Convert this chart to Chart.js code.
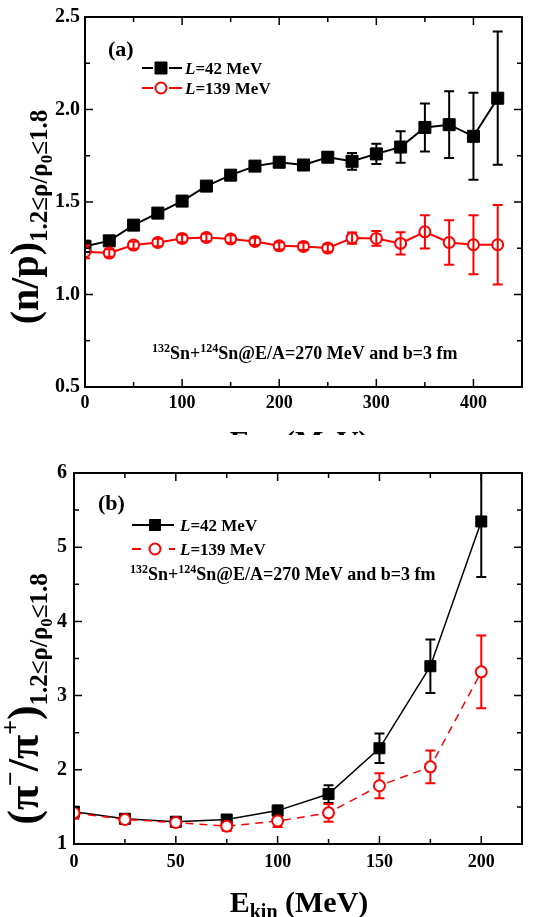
<!DOCTYPE html>
<html>
<head>
<meta charset="utf-8">
<script src="https://cdn.jsdelivr.net/npm/chart.js@4.4.0/dist/chart.umd.min.js"></script>
<style>
  html, body { margin: 0; padding: 0; background: #fff; }
  #wrap { position: relative; width: 540px; height: 917px; overflow: hidden; background: #fff; }
  .box { position: absolute; left: 0; width: 540px; }
  #boxA { top: 0; height: 435px; }
  #boxB { top: 435px; height: 482px; background: #fff; }
</style>
</head>
<body>
<div id="wrap">
  <div class="box" id="boxA"><canvas id="chartA" width="540" height="435"></canvas></div>
  <div class="box" id="boxB"><canvas id="chartB" width="540" height="482"></canvas></div>
</div>
<script>
// panel (a): (n/p) vs kinetic energy
const energyA = [0, 25, 50, 75, 100, 125, 150, 175, 200, 225, 250, 275, 300, 325, 350, 375, 400, 425];
const npL42 = [1.26, 1.29, 1.375, 1.44, 1.505, 1.586, 1.645, 1.694, 1.715, 1.70, 1.742, 1.72, 1.76, 1.797, 1.903, 1.918, 1.855, 2.061];
const npL42Err = [0.03, 0.015, 0.015, 0.015, 0.015, 0.015, 0.015, 0.015, 0.015, 0.015, 0.025, 0.045, 0.055, 0.085, 0.13, 0.18, 0.235, 0.36];
const npL139 = [1.231, 1.224, 1.267, 1.281, 1.303, 1.308, 1.30, 1.287, 1.263, 1.26, 1.251, 1.305, 1.303, 1.276, 1.339, 1.281, 1.269, 1.269];
const npL139Err = [0.035, 0.02, 0.02, 0.02, 0.02, 0.02, 0.02, 0.02, 0.02, 0.02, 0.02, 0.03, 0.04, 0.06, 0.09, 0.12, 0.16, 0.215];
const xTicksA = [0, 100, 200, 300, 400];
const yTicksA = [0.5, 1.0, 1.5, 2.0, 2.5];
const yLabelsA = ['0.5', '1.0', '1.5', '2.0', '2.5'];

// panel (b): (pi-/pi+) vs kinetic energy
const energyB = [0, 25, 50, 75, 100, 125, 150, 175, 200];
const piL42 = [1.435, 1.34, 1.30, 1.33, 1.45, 1.673, 2.29, 3.396, 5.347];
const piL42Err = [0.04, 0.04, 0.04, 0.05, 0.07, 0.12, 0.2, 0.36, 0.75];
const piL139 = [1.42, 1.33, 1.29, 1.24, 1.31, 1.42, 1.785, 2.04, 3.32];
const piL139Err = [0.08, 0.06, 0.06, 0.06, 0.08, 0.12, 0.17, 0.22, 0.49];
const xTicksB = [0, 50, 100, 150, 200];
const yTicksB = [1, 2, 3, 4, 5, 6];
const yLabelsB = ['1', '2', '3', '4', '5', '6'];

const serif = '"Liberation Serif", "Times New Roman", serif';
const xTickFont = { family: serif, weight: 'bold', size: 18 };
const yTickFont = { family: serif, weight: 'bold', size: 20 };

function fontStr(p) {
    return (p.italic ? 'italic ' : '') + 'bold ' + p.size + 'px ' + serif;
}

function richWidth(ctx, parts) {
    let w = 0;
    parts.forEach(p => { ctx.font = fontStr(p); w += ctx.measureText(p.t).width; });
    return w;
}

function drawRich(ctx, parts, x, y, center) {
    let cx = center ? x - richWidth(ctx, parts) / 2 : x;
    ctx.textAlign = 'left';
    ctx.textBaseline = 'alphabetic';
    parts.forEach(p => {
        ctx.font = fontStr(p);
        ctx.fillText(p.t, cx, y + (p.dy || 0));
        cx += ctx.measureText(p.t).width;
    });
}

function toPoints(xs, ys) {
    return xs.map((x, i) => ({ x: x, y: ys[i] }));
}

function minorsOf(majors, min, max) {
    const out = [];
    const step = majors[1] - majors[0];
    const all = [majors[0] - step].concat(majors, [majors[majors.length - 1] + step]);
    for (let i = 0; i < all.length - 1; i++) {
        const m = (all[i] + all[i + 1]) / 2;
        if (m > min && m < max) out.push(m);
    }
    return out;
}

function drawErrorBars(chart) {
    const ctx = chart.ctx;
    const area = chart.chartArea;
    const yScale = chart.scales.y;
    ctx.save();
    ctx.beginPath();
    ctx.rect(area.left, area.top - 1, area.right - area.left, area.bottom - area.top + 2);
    ctx.clip();
    chart.data.datasets.forEach((ds, di) => {
        const meta = chart.getDatasetMeta(di);
        ctx.strokeStyle = ds.borderColor;
        ctx.lineWidth = 2;
        ctx.setLineDash([]);
        meta.data.forEach((pt, i) => {
            const v = ds.data[i].y, e = ds.err[i];
            const y0 = yScale.getPixelForValue(v + e);
            const y1 = yScale.getPixelForValue(v - e);
            ctx.beginPath();
            ctx.moveTo(pt.x, y0); ctx.lineTo(pt.x, y1);
            ctx.moveTo(pt.x - 5, y0); ctx.lineTo(pt.x + 5, y0);
            ctx.moveTo(pt.x - 5, y1); ctx.lineTo(pt.x + 5, y1);
            ctx.stroke();
        });
    });
    ctx.restore();
}

const panelPlugin = {
    id: 'panel',
    beforeDatasetsDraw(chart, args, opts) {
        if (!opts.barsOnTop) drawErrorBars(chart);
    },
    afterDatasetsDraw(chart, args, opts) {
        if (opts.barsOnTop) drawErrorBars(chart);
    },
    afterDraw(chart, args, opts) {
        const ctx = chart.ctx;
        const a = chart.chartArea;
        const xs = chart.scales.x, ys = chart.scales.y;
        ctx.save();
        ctx.fillStyle = '#000';
        ctx.strokeStyle = '#000';
        // frame
        ctx.lineWidth = 2;
        ctx.strokeRect(a.left, a.top, a.right - a.left, a.bottom - a.top);
        // inward ticks on all four sides
        ctx.lineWidth = 1.5;
        const xMaj = opts.xTicks, yMaj = opts.yTicks;
        const xMin = minorsOf(xMaj, xs.min, xs.max), yMin = minorsOf(yMaj, ys.min, ys.max);
        ctx.beginPath();
        [[xMaj, 8], [xMin, 5]].forEach(([vals, len]) => {
            vals.forEach(v => {
                const px = xs.getPixelForValue(v);
                ctx.moveTo(px, a.bottom); ctx.lineTo(px, a.bottom - len);
                ctx.moveTo(px, a.top); ctx.lineTo(px, a.top + len);
            });
        });
        [[yMaj, 8], [yMin, 5]].forEach(([vals, len]) => {
            vals.forEach(v => {
                const py = ys.getPixelForValue(v);
                ctx.moveTo(a.left, py); ctx.lineTo(a.left + len, py);
                ctx.moveTo(a.right, py); ctx.lineTo(a.right - len, py);
            });
        });
        ctx.stroke();

        // panel letter
        drawRich(ctx, [{ t: opts.letter, size: 22 }], opts.letterPos[0], opts.letterPos[1], false);

        // legend
        opts.legend.forEach(item => {
            const ds = chart.data.datasets[item.index];
            ctx.strokeStyle = ds.borderColor;
            ctx.lineWidth = 2;
            ctx.setLineDash([]);
            ctx.beginPath();
            ctx.moveTo(item.x0, item.y); ctx.lineTo(item.mx - item.gap, item.y);
            ctx.moveTo(item.mx + item.gap, item.y); ctx.lineTo(item.x1, item.y);
            ctx.stroke();
            ctx.fillStyle = ds.pointBackgroundColor;
            ctx.strokeStyle = ds.borderColor;
            ctx.lineWidth = ds.pointBorderWidth;
            Chart.helpers.drawPoint(ctx, { pointStyle: ds.pointStyle, radius: ds.pointRadius, rotation: 0, borderWidth: ds.pointBorderWidth }, item.mx, item.y);
            ctx.fillStyle = '#000';
            drawRich(ctx, [{ t: 'L', size: 17, italic: true }, { t: '=' + item.text, size: 17 }], item.tx, item.y + 6, false);
        });

        // reaction label
        drawRich(ctx, [
            { t: '132', size: 12, dy: -7 }, { t: 'Sn+', size: 18 },
            { t: '124', size: 12, dy: -7 }, { t: 'Sn@E/A=270 MeV and b=3 fm', size: 18 }
        ], opts.notePos[0], opts.notePos[1], false);

        // x title
        drawRich(ctx, [{ t: 'E', size: 30 }, { t: 'kin', size: 20, dy: 6 }, { t: ' (MeV)', size: 30 }],
            opts.xTitlePos[0], opts.xTitlePos[1], true);

        // y title, rotated
        ctx.translate(opts.yTitlePos[0], opts.yTitlePos[1]);
        ctx.rotate(-Math.PI / 2);
        drawRich(ctx, opts.yTitle, 0, 0, true);
        ctx.restore();
    }
};

function makeScales(xMax, xTicks, yMin, yMax, yTicks, yLabels, yWidth, xHeight, yPad, xPad) {
    return {
        x: {
            type: 'linear', min: 0, max: xMax,
            grid: { display: false, drawTicks: false }, border: { display: false },
            afterBuildTicks: s => { s.ticks = xTicks.map(v => ({ value: v })); },
            afterFit: s => { s.height = xHeight; },
            ticks: { font: xTickFont, color: '#000', padding: xPad, autoSkip: false, maxRotation: 0, callback: v => String(v) }
        },
        y: {
            type: 'linear', min: yMin, max: yMax,
            grid: { display: false, drawTicks: false }, border: { display: false },
            afterBuildTicks: s => { s.ticks = yTicks.map(v => ({ value: v })); },
            afterFit: s => { s.width = yWidth; },
            ticks: { font: yTickFont, color: '#000', padding: yPad, autoSkip: false, callback: (v, i) => yLabels[i] }
        }
    };
}

const sub = [
    { t: '1.2\u2264\u03c1/\u03c1', size: 25, dy: 9 }, { t: '0', size: 17, dy: 14 }, { t: '\u22641.8', size: 25, dy: 9 }
];

new Chart(document.getElementById('chartA'), {
    type: 'line',
    data: {
        datasets: [
            { label: 'L=42 MeV', data: toPoints(energyA, npL42), err: npL42Err, borderColor: '#000', borderWidth: 2,
              pointStyle: 'rect', pointRadius: 8.5, pointBorderWidth: 1, pointBackgroundColor: '#000', order: 1 },
            { label: 'L=139 MeV', data: toPoints(energyA, npL139), err: npL139Err, borderColor: '#ff0000', borderWidth: 2,
              pointStyle: 'circle', pointRadius: 5.5, pointBorderWidth: 2, pointBackgroundColor: '#fff', order: 0 }
        ]
    },
    options: {
        responsive: false,
        animation: false,
        layout: { padding: { top: 15, right: 18, left: 0, bottom: 0 } },
        scales: makeScales(450, xTicksA, 0.5, 2.5, yTicksA, yLabelsA, 85, 48, 5, 6),
        plugins: {
            legend: { display: false },
            tooltip: { enabled: false },
            panel: {
                barsOnTop: true,
                xTicks: xTicksA, yTicks: yTicksA,
                letter: '(a)', letterPos: [108, 56],
                legend: [
                    { index: 0, y: 68, x0: 142, x1: 182, mx: 161, gap: 8, tx: 185, text: '42 MeV' },
                    { index: 1, y: 88, x0: 142, x1: 182, mx: 161, gap: 8, tx: 185, text: '139 MeV' }
                ],
                notePos: [152, 359],
                xTitlePos: [299, 451],
                yTitlePos: [38, 217],
                yTitle: [{ t: '(n/p)', size: 40 }].concat(sub)
            }
        }
    },
    plugins: [panelPlugin]
});

new Chart(document.getElementById('chartB'), {
    type: 'line',
    data: {
        datasets: [
            { label: 'L=42 MeV', data: toPoints(energyB, piL42), err: piL42Err, borderColor: '#000', borderWidth: 1.5,
              pointStyle: 'rect', pointRadius: 7.8, pointBorderWidth: 1, pointBackgroundColor: '#000', order: 1 },
            { label: 'L=139 MeV', data: toPoints(energyB, piL139), err: piL139Err, borderColor: '#ff0000', borderWidth: 1.5,
              borderDash: [8, 6], pointStyle: 'circle', pointRadius: 5.5, pointBorderWidth: 2, pointBackgroundColor: '#fff', order: 0 }
        ]
    },
    options: {
        responsive: false,
        animation: false,
        layout: { padding: { top: 38, right: 18, left: 0, bottom: 0 } },
        scales: makeScales(220, xTicksB, 1, 6, yTicksB, yLabelsB, 74, 73, 7, 8),
        plugins: {
            legend: { display: false },
            tooltip: { enabled: false },
            panel: {
                barsOnTop: false,
                xTicks: xTicksB, yTicks: yTicksB,
                letter: '(b)', letterPos: [98, 75],
                legend: [
                    { index: 0, y: 90, x0: 132, x1: 174, mx: 155, gap: 0, tx: 180, text: '42 MeV' },
                    { index: 1, y: 114, x0: 132, x1: 175, mx: 155, gap: 14, tx: 180, text: '139 MeV' }
                ],
                notePos: [130, 145],
                xTitlePos: [299, 477],
                yTitlePos: [38, 264],
                yTitle: [
                    { t: '(\u03c0', size: 44 }, { t: '\u2212', size: 26, dy: -19 }, { t: '/\u03c0', size: 44 },
                    { t: '+', size: 26, dy: -19 }, { t: ')', size: 44 }
                ].concat(sub)
            }
        }
    },
    plugins: [panelPlugin]
});
</script>
</body>
</html>
